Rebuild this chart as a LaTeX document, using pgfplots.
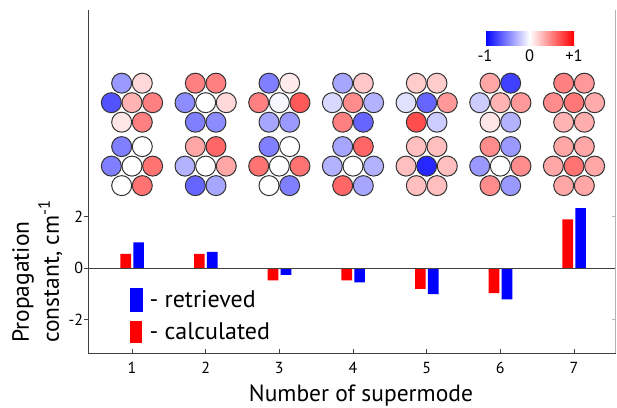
\documentclass[border=0pt]{standalone}
\usepackage{fontspec}
\setmainfont{PT Sans}
\usepackage{pgfplots}
\pgfplotsset{compat=1.18}
\usetikzlibrary{calc}
\pgfplotstableread{
x y c
0.86 7.20 -0.40
1.14 7.20 0.15
0.72 6.44 -0.68
1.00 6.44 0.30
1.28 6.44 0.50
0.86 5.68 0.10
1.14 5.68 0.50
0.86 4.73 -0.50
1.14 4.73 0.00
0.72 3.97 -0.50
1.00 3.97 0.00
1.28 3.97 0.55
0.86 3.21 0.00
1.14 3.21 0.55
1.86 7.20 0.50
2.14 7.20 0.50
1.72 6.44 -0.45
2.00 6.44 0.00
2.28 6.44 0.15
1.86 5.68 -0.50
2.14 5.68 -0.45
1.86 4.73 0.35
2.14 4.73 0.60
1.72 3.97 -0.30
2.00 3.97 0.00
2.28 3.97 0.35
1.86 3.21 -0.60
2.14 3.21 -0.35
2.86 7.20 -0.50
3.14 7.20 0.08
2.72 6.44 0.50
3.00 6.44 -0.03
3.28 6.44 0.65
2.86 5.68 -0.35
3.14 5.68 -0.40
2.86 4.73 -0.50
3.14 4.73 0.00
2.72 3.97 0.55
3.00 3.97 0.00
3.28 3.97 0.55
2.86 3.21 0.00
3.14 3.21 -0.50
3.86 7.20 -0.35
4.14 7.20 0.22
3.72 6.44 -0.15
4.00 6.44 0.45
4.28 6.44 -0.30
3.86 5.68 0.50
4.14 5.68 -0.60
3.86 4.73 -0.35
4.14 4.73 0.60
3.72 3.97 -0.30
4.00 3.97 0.00
4.28 3.97 -0.30
3.86 3.21 0.60
4.14 3.21 -0.35
4.86 7.20 0.20
5.14 7.20 0.20
4.72 6.44 -0.12
5.00 6.44 -0.60
5.28 6.44 0.40
4.86 5.68 0.70
5.14 5.68 -0.20
4.86 4.73 0.25
5.14 4.73 0.25
4.72 3.97 0.25
5.00 3.97 -0.85
5.28 3.97 0.25
4.86 3.21 0.25
5.14 3.21 0.25
5.86 7.20 0.35
6.14 7.20 -0.75
5.72 6.44 -0.20
6.00 6.44 0.30
6.28 6.44 0.40
5.86 5.68 0.10
6.14 5.68 -0.30
5.86 4.73 0.45
6.14 4.73 -0.40
5.72 3.97 -0.40
6.00 3.97 0.00
6.28 3.97 0.45
5.86 3.21 0.45
6.14 3.21 -0.40
6.86 7.20 0.50
7.14 7.20 0.40
6.72 6.44 0.45
7.00 6.44 0.53
7.28 6.44 0.33
6.86 5.68 0.30
7.14 5.68 0.32
6.86 4.73 0.35
7.14 4.73 0.35
6.72 3.97 0.35
7.00 3.97 0.55
7.28 3.97 0.35
6.86 3.21 0.35
7.14 3.21 0.35
}\circles
\begin{document}
\begin{tikzpicture}
\useasboundingbox (0,0) rectangle (617bp,408bp);
\begin{axis}[
  at={(88.3bp,54.7bp)}, anchor=south west,
  scale only axis, width=527.4bp, height=343.3bp,
  xmin=0.407, xmax=7.566, ymin=-3.32, ymax=10.05,
  clip=false,
  axis x line*=bottom, axis y line*=left,
  axis line style={black!75, line width=1bp},
  xtick={1,2,3,4,5,6,7}, ytick={-2,0,2},
  tick align=inside,
  major tick length=4bp,
  tick style={black!75, line width=0.8bp},
  ytick style={xshift=-4bp},
  /pgf/number format/assume math mode=true,
  ticklabel style={font=\fontsize{16bp}{18bp}\selectfont},
  xticklabel style={inner sep=0pt, anchor=north, yshift=-8.5bp},
  yticklabel style={inner sep=0pt, anchor=east, xshift=-5bp},
  xlabel={Number of supermode},
  xlabel style={at={(axis description cs:0.517,-0.139)}, anchor=base, inner sep=0pt, font=\fontsize{23.5bp}{28bp}\selectfont},
  ylabel={Propagation\\constant, cm\textsuperscript{-1}},
  ylabel style={at={(axis description cs:-0.1447,0.030)}, anchor=north west, align=left, inner sep=0pt, font=\fontsize{23.5bp}{30bp}\selectfont},
  colormap={bwr}{rgb255=(0,0,255) rgb255=(255,255,255) rgb255=(255,0,0)},
  point meta min=-1, point meta max=1,
  colorbar horizontal,
  colorbar style={
    at={($(parent axis.south west)+(396.7bp,331.3bp)$)}, anchor=north west,
    scale only axis, width=89bp, height=15.5bp,
    xtick={-1,0,1}, xticklabels={-1,0,+1},
    xtick style={draw=none}, axis line style={draw=none},
    xticklabel style={inner sep=0pt, anchor=north, yshift=-3.5bp, font=\fontsize{16.5bp}{18bp}\selectfont},
  },
  legend style={at={(axis description cs:0.079,0.191)}, anchor=north west, draw=none, fill=none,
    font=\fontsize{24bp}{28bp}\selectfont, row sep=9bp, inner sep=0pt},
  legend cell align=left,
]
\addplot[ybar, bar width=0.145, bar shift=-0.085, fill=red, draw=none, forget plot]
  coordinates {(1,0.55) (2,0.55) (3,-0.48) (4,-0.48) (5,-0.81) (6,-0.98) (7,1.90)};
\addplot[ybar, bar width=0.145, bar shift=0.09, fill=blue, draw=none, forget plot]
  coordinates {(1,1.00) (2,0.63) (3,-0.27) (4,-0.56) (5,-1.02) (6,-1.22) (7,2.33)};
\addplot[scatter, only marks, mark=*, mark size=10bp, point meta=explicit,
  scatter/use mapped color={draw=black!80, fill=mapped color},
  mark options={line width=1bp}, forget plot] table[x=x, y=y, meta=c] {\circles};
\draw[black!75, line width=0.8bp] (axis cs:0.407,0) -- (axis cs:7.566,0);
\draw[black!30, line width=1bp] (axis cs:7.566,-3.32) -- (axis cs:7.566,10.05);
\draw[black!30, line width=0.8bp] (axis cs:7.566,2) -- ([xshift=-4bp]axis cs:7.566,2);
\draw[black!30, line width=0.8bp] (axis cs:7.566,-2) -- ([xshift=-4bp]axis cs:7.566,-2);
\addlegendimage{legend image code/.code={\fill[blue] (0bp,-11.5bp) rectangle (11.6bp,11.5bp); \path (17bp,0bp);}}
\addlegendentry{- retrieved}
\addlegendimage{legend image code/.code={\fill[red] (0bp,-10.5bp) rectangle (11.3bp,10.5bp); \path (17bp,0bp);}}
\addlegendentry{- calculated}
\end{axis}
\end{tikzpicture}
\end{document}
